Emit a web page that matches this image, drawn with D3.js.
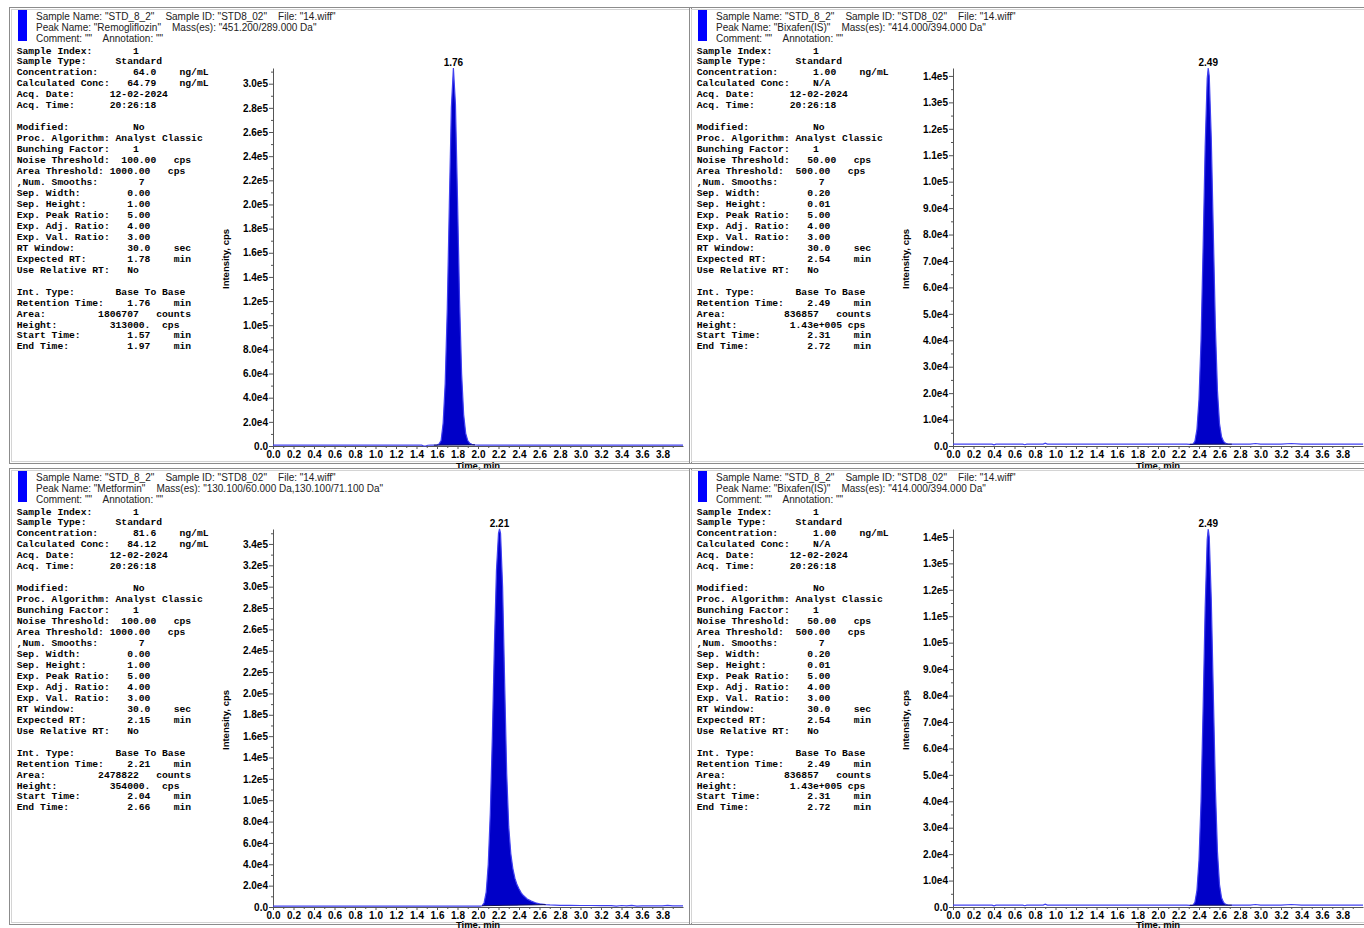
<!DOCTYPE html>
<html>
<head>
<meta charset="utf-8">
<script src="https://cdn.jsdelivr.net/npm/d3@7"></script>
<style>
  body { margin: 0; background: #fff; }
  svg { display: block; }
  .hdr { font-family: "Liberation Sans", Arial, sans-serif; font-size: 10px; fill: #222; white-space: pre; }
  .info { font-family: "Liberation Mono", "Courier New", monospace; font-size: 9.7px; font-weight: bold; fill: #000; white-space: pre; }
  .axis text { font-family: "Liberation Sans", Arial, sans-serif; font-size: 10px; font-weight: bold; fill: #000; }
  .axis path, .axis line { stroke: #555; }
  .lbl { font-family: "Liberation Sans", Arial, sans-serif; font-size: 9.5px; font-weight: bold; fill: #000; }
  .plbl { font-family: "Liberation Sans", Arial, sans-serif; font-size: 10px; font-weight: bold; fill: #000; }
</style>
</head>
<body>
<div id="chart"></div>
<script>
// ---- data ----
const xTicks = [0.0, 0.2, 0.4, 0.6, 0.8, 1.0, 1.2, 1.4, 1.6, 1.8, 2.0, 2.2, 2.4, 2.6, 2.8, 3.0, 3.2, 3.4, 3.6, 3.8];

// Remogliflozin (top left)
const remoTime = [0.00, 0.10, 0.20, 0.30, 0.40, 0.50, 0.60, 0.70, 0.80, 0.90, 1.00, 1.10, 1.20, 1.30, 1.40,
  1.45, 1.47, 1.49, 1.51, 1.54, 1.57,
  1.60, 1.62, 1.64, 1.66, 1.68, 1.70, 1.72, 1.74, 1.76, 1.78, 1.80, 1.82, 1.84, 1.86, 1.88, 1.90, 1.92, 1.94,
  1.97, 2.00, 2.05,
  2.10, 2.20, 2.30, 2.40, 2.50, 2.60, 2.70, 2.80, 2.90, 3.00, 3.10, 3.20, 3.30, 3.40, 3.50, 3.60, 3.70, 3.80, 3.90, 4.00];
const remoInt = [700, 650, 700, 680, 700, 690, 710, 700, 680, 700, 690, 700, 710, 690, 700,
  650, 0, 0, 600, 650, 700,
  900, 1600, 4500, 19000, 52000, 113000, 199000, 280000, 313000, 283000, 205000, 121000, 60000, 26000, 10500, 4500, 2200, 1400,
  900, 800, 750,
  720, 700, 690, 700, 710, 700, 690, 700, 700, 690, 700, 710, 700, 690, 700, 700, 690, 700, 700, 700];
const remoYTicks = [0, 20000, 40000, 60000, 80000, 100000, 120000, 140000, 160000, 180000, 200000, 220000, 240000, 260000, 280000, 300000];

// Bixafen(IS) (top right and bottom right)
const bixTime = [0.00, 0.10, 0.20, 0.30, 0.38, 0.40, 0.42, 0.50, 0.60, 0.68, 0.70, 0.72, 0.80, 0.88, 0.90, 0.92,
  1.00, 1.10, 1.20, 1.30, 1.40, 1.50, 1.60, 1.70, 1.80, 1.90, 2.00, 2.10, 2.20,
  2.28, 2.31, 2.34, 2.36, 2.38, 2.40, 2.42, 2.44, 2.46, 2.48, 2.49,
  2.50, 2.52, 2.54, 2.56, 2.58, 2.60, 2.62, 2.64, 2.66, 2.68, 2.70, 2.72,
  2.76, 2.80, 2.90, 2.95, 3.00, 3.10, 3.20, 3.30, 3.40, 3.50, 3.60, 3.70, 3.80, 3.90, 4.00];
const bixInt = [700, 720, 700, 710, 700, 450, 700, 720, 700, 700, 480, 700, 710, 720, 1100, 720,
  700, 710, 700, 690, 700, 710, 700, 700, 690, 700, 710, 700, 700,
  700, 650, 650, 1800, 6300, 17700, 40000, 75000, 113000, 139000, 143000,
  140000, 116000, 80000, 45000, 21000, 8500, 3500, 1700, 1000, 800, 700, 680,
  700, 700, 700, 950, 700, 700, 700, 950, 700, 700, 710, 700, 700, 720, 700];
const bixYTicks = [0, 10000, 20000, 30000, 40000, 50000, 60000, 70000, 80000, 90000, 100000, 110000, 120000, 130000, 140000];

// Metformin (bottom left)
const metTime = [0.00, 0.10, 0.20, 0.30, 0.40, 0.50, 0.60, 0.70, 0.80, 0.90, 1.00, 1.10, 1.20, 1.30, 1.40, 1.50, 1.60, 1.70, 1.80, 1.90,
  1.95, 2.00,
  2.02, 2.04, 2.06, 2.08, 2.10, 2.12, 2.14, 2.16, 2.18, 2.20, 2.21,
  2.22, 2.24, 2.26, 2.28, 2.30, 2.32, 2.34, 2.36, 2.38, 2.40, 2.42, 2.44,
  2.48, 2.52, 2.56, 2.60, 2.66, 2.70,
  2.80, 2.90, 3.00, 3.10, 3.20, 3.30, 3.35, 3.40, 3.45, 3.50, 3.55, 3.60, 3.70, 3.80, 3.85, 3.90, 4.00];
const metInt = [800, 780, 800, 790, 800, 810, 800, 790, 800, 800, 790, 800, 810, 800, 790, 800, 800, 790, 800, 800,
  800, 820,
  900, 1200, 4000, 14000, 40000, 88000, 160000, 245000, 315000, 350000, 354000,
  350000, 300000, 210000, 125000, 75000, 50000, 36000, 27000, 21000, 17000, 13500, 11000,
  7500, 5500, 4000, 3000, 2200, 1900,
  1600, 1500, 1400, 1400, 1300, 1200, 900, 1400, 1000, 1500, 900, 1100, 1000, 1000, 1500, 1000, 1000];
const metYTicks = [0, 20000, 40000, 60000, 80000, 100000, 120000, 140000, 160000, 180000, 200000, 220000, 240000, 260000, 280000, 300000, 320000, 340000];

// header lines
const remoHeader = [
  'Sample Name: "STD_8_2"    Sample ID: "STD8_02"    File: "14.wiff"',
  'Peak Name: "Remogliflozin"    Mass(es): "451.200/289.000 Da"',
  'Comment: ""    Annotation: ""'];
const bixHeader = [
  'Sample Name: "STD_8_2"    Sample ID: "STD8_02"    File: "14.wiff"',
  'Peak Name: "Bixafen(IS)"    Mass(es): "414.000/394.000 Da"',
  'Comment: ""    Annotation: ""'];
const metHeader = [
  'Sample Name: "STD_8_2"    Sample ID: "STD8_02"    File: "14.wiff"',
  'Peak Name: "Metformin"    Mass(es): "130.100/60.000 Da,130.100/71.100 Da"',
  'Comment: ""    Annotation: ""'];

// info blocks: [column, text] segments per line
const remoInfo = [
  [[0, "Sample Index:"], [20, "1"]],
  [[0, "Sample Type:"], [17, "Standard"]],
  [[0, "Concentration:"], [20, "64.0"], [28, "ng/mL"]],
  [[0, "Calculated Conc:"], [19, "64.79"], [28, "ng/mL"]],
  [[0, "Acq. Date:"], [16, "12-02-2024"]],
  [[0, "Acq. Time:"], [16, "20:26:18"]],
  [],
  [[0, "Modified:"], [20, "No"]],
  [[0, "Proc. Algorithm: Analyst Classic"]],
  [[0, "Bunching Factor:"], [20, "1"]],
  [[0, "Noise Threshold:"], [18, "100.00"], [27, "cps"]],
  [[0, "Area Threshold:"], [16, "1000.00"], [26, "cps"]],
  [[0, ",Num. Smooths:"], [21, "7"]],
  [[0, "Sep. Width:"], [19, "0.00"]],
  [[0, "Sep. Height:"], [19, "1.00"]],
  [[0, "Exp. Peak Ratio:"], [19, "5.00"]],
  [[0, "Exp. Adj. Ratio:"], [19, "4.00"]],
  [[0, "Exp. Val. Ratio:"], [19, "3.00"]],
  [[0, "RT Window:"], [19, "30.0"], [27, "sec"]],
  [[0, "Expected RT:"], [19, "1.78"], [27, "min"]],
  [[0, "Use Relative RT:"], [19, "No"]],
  [],
  [[0, "Int. Type:"], [17, "Base To Base"]],
  [[0, "Retention Time:"], [19, "1.76"], [27, "min"]],
  [[0, "Area:"], [14, "1806707"], [24, "counts"]],
  [[0, "Height:"], [16, "313000."], [25, "cps"]],
  [[0, "Start Time:"], [19, "1.57"], [27, "min"]],
  [[0, "End Time:"], [19, "1.97"], [27, "min"]]];

const bixInfo = [
  [[0, "Sample Index:"], [20, "1"]],
  [[0, "Sample Type:"], [17, "Standard"]],
  [[0, "Concentration:"], [20, "1.00"], [28, "ng/mL"]],
  [[0, "Calculated Conc:"], [20, "N/A"]],
  [[0, "Acq. Date:"], [16, "12-02-2024"]],
  [[0, "Acq. Time:"], [16, "20:26:18"]],
  [],
  [[0, "Modified:"], [20, "No"]],
  [[0, "Proc. Algorithm: Analyst Classic"]],
  [[0, "Bunching Factor:"], [20, "1"]],
  [[0, "Noise Threshold:"], [19, "50.00"], [27, "cps"]],
  [[0, "Area Threshold:"], [17, "500.00"], [26, "cps"]],
  [[0, ",Num. Smooths:"], [21, "7"]],
  [[0, "Sep. Width:"], [19, "0.20"]],
  [[0, "Sep. Height:"], [19, "0.01"]],
  [[0, "Exp. Peak Ratio:"], [19, "5.00"]],
  [[0, "Exp. Adj. Ratio:"], [19, "4.00"]],
  [[0, "Exp. Val. Ratio:"], [19, "3.00"]],
  [[0, "RT Window:"], [19, "30.0"], [27, "sec"]],
  [[0, "Expected RT:"], [19, "2.54"], [27, "min"]],
  [[0, "Use Relative RT:"], [19, "No"]],
  [],
  [[0, "Int. Type:"], [17, "Base To Base"]],
  [[0, "Retention Time:"], [19, "2.49"], [27, "min"]],
  [[0, "Area:"], [15, "836857"], [24, "counts"]],
  [[0, "Height:"], [16, "1.43e+005"], [26, "cps"]],
  [[0, "Start Time:"], [19, "2.31"], [27, "min"]],
  [[0, "End Time:"], [19, "2.72"], [27, "min"]]];

const metInfo = [
  [[0, "Sample Index:"], [20, "1"]],
  [[0, "Sample Type:"], [17, "Standard"]],
  [[0, "Concentration:"], [20, "81.6"], [28, "ng/mL"]],
  [[0, "Calculated Conc:"], [19, "84.12"], [28, "ng/mL"]],
  [[0, "Acq. Date:"], [16, "12-02-2024"]],
  [[0, "Acq. Time:"], [16, "20:26:18"]],
  [],
  [[0, "Modified:"], [20, "No"]],
  [[0, "Proc. Algorithm: Analyst Classic"]],
  [[0, "Bunching Factor:"], [20, "1"]],
  [[0, "Noise Threshold:"], [18, "100.00"], [27, "cps"]],
  [[0, "Area Threshold:"], [16, "1000.00"], [26, "cps"]],
  [[0, ",Num. Smooths:"], [21, "7"]],
  [[0, "Sep. Width:"], [19, "0.00"]],
  [[0, "Sep. Height:"], [19, "1.00"]],
  [[0, "Exp. Peak Ratio:"], [19, "5.00"]],
  [[0, "Exp. Adj. Ratio:"], [19, "4.00"]],
  [[0, "Exp. Val. Ratio:"], [19, "3.00"]],
  [[0, "RT Window:"], [19, "30.0"], [27, "sec"]],
  [[0, "Expected RT:"], [19, "2.15"], [27, "min"]],
  [[0, "Use Relative RT:"], [19, "No"]],
  [],
  [[0, "Int. Type:"], [17, "Base To Base"]],
  [[0, "Retention Time:"], [19, "2.21"], [27, "min"]],
  [[0, "Area:"], [14, "2478822"], [24, "counts"]],
  [[0, "Height:"], [16, "354000."], [25, "cps"]],
  [[0, "Start Time:"], [19, "2.04"], [27, "min"]],
  [[0, "End Time:"], [19, "2.66"], [27, "min"]]];

// four panes: offsets + which data they show
const panels = [
  {dx: 0,   dy: 0,   header: remoHeader, info: remoInfo, time: remoTime, inten: remoInt, yTicks: remoYTicks, rt: 1.76, start: 1.57, end: 1.97},
  {dx: 680, dy: 0,   header: bixHeader,  info: bixInfo,  time: bixTime,  inten: bixInt,  yTicks: bixYTicks,  rt: 2.49, start: 2.31, end: 2.72},
  {dx: 0,   dy: 461, header: metHeader,  info: metInfo,  time: metTime,  inten: metInt,  yTicks: metYTicks,  rt: 2.21, start: 2.04, end: 2.66},
  {dx: 680, dy: 461, header: bixHeader,  info: bixInfo,  time: bixTime,  inten: bixInt,  yTicks: bixYTicks,  rt: 2.49, start: 2.31, end: 2.72}
];

const svg = d3.select("#chart").append("svg")
    .attr("width", 1364)
    .attr("height", 928);

// y labels like 3.0e5 / 8.0e4
function fmtY(v) {
    if (v === 0) return "0.0";
    const e = Math.floor(Math.log10(v) + 1e-9);
    return (v / Math.pow(10, e)).toFixed(1) + "e" + e;
}

function buildLine(row) {
    let s = "";
    row.forEach(([col, txt]) => { s = s.padEnd(col, " ") + txt; });
    return s;
}

function drawPanel(p) {
    const g = svg.append("g").attr("transform", `translate(${p.dx},${p.dy})`);

    // pane frame
    g.append("rect")
        .attr("x", 9.5).attr("y", 7.5).attr("width", 682).attr("height", 456)
        .attr("fill", "none").attr("stroke", "#8c8c8c");
    g.append("rect")
        .attr("x", 11.5).attr("y", 9.5).attr("width", 678).attr("height", 452)
        .attr("fill", "none").attr("stroke", "#d4d4d4");

    // header
    g.append("rect")
        .attr("x", 18).attr("y", 10).attr("width", 9).attr("height", 31)
        .attr("fill", "#0000ff");
    g.selectAll("text.hdr")
        .data(p.header)
        .join("text")
        .attr("class", "hdr")
        .attr("xml:space", "preserve")
        .attr("x", 36)
        .attr("y", (d, i) => 19.5 + i * 11)
        .text(d => d);

    // info block
    g.selectAll("text.info")
        .data(p.info)
        .join("text")
        .attr("class", "info")
        .attr("xml:space", "preserve")
        .attr("x", 16.7)
        .attr("y", (d, i) => 53.5 + i * 10.96)
        .text(d => buildLine(d));

    // scales
    const x = d3.scaleLinear().domain([0, 4]).range([273, 683]);
    const yMax = d3.max(p.inten);
    const y = d3.scaleLinear().domain([0, yMax]).range([446, 68]);

    // axes
    g.append("g")
        .attr("class", "axis")
        .attr("transform", "translate(0,446)")
        .call(d3.axisBottom(x).tickValues(xTicks).tickFormat(d3.format(".1f")).tickSize(3).tickPadding(2).tickSizeOuter(0));
    g.append("g")
        .attr("class", "axis")
        .attr("transform", "translate(0,446)")
        .call(d3.axisBottom(x).tickValues(d3.range(0.1, 4, 0.2)).tickFormat("").tickSize(2))
        .call(a => a.select(".domain").remove());

    const step = p.yTicks[1] - p.yTicks[0];
    g.append("g")
        .attr("class", "axis")
        .attr("transform", "translate(273,0)")
        .call(d3.axisLeft(y).tickValues(p.yTicks).tickFormat(fmtY).tickSize(4).tickPadding(1).tickSizeOuter(0));
    g.append("g")
        .attr("class", "axis")
        .attr("transform", "translate(273,0)")
        .call(d3.axisLeft(y).tickValues(d3.range(step / 2, yMax, step)).tickFormat("").tickSize(2))
        .call(a => a.select(".domain").remove());

    // trace + integrated area
    const pts = d3.zip(p.time, p.inten);
    const i0 = pts.find(d => d[0] === p.start)[1];
    const i1 = pts.find(d => d[0] === p.end)[1];
    const base = t => i0 + (i1 - i0) * (t - p.start) / (p.end - p.start);
    const peakPts = pts.filter(d => d[0] >= p.start && d[0] <= p.end);

    g.append("path")
        .datum(peakPts)
        .attr("d", d3.area().x(d => x(d[0])).y0(d => y(base(d[0]))).y1(d => y(d[1])))
        .attr("fill", "#0000c8");

    g.append("path")
        .datum(pts)
        .attr("d", d3.line().x(d => x(d[0])).y(d => y(d[1])))
        .attr("fill", "none")
        .attr("stroke", "#4040f0")
        .attr("stroke-width", 1.2);

    g.append("line")
        .attr("x1", x(p.start)).attr("x2", x(p.end))
        .attr("y1", y(i0)).attr("y2", y(i1))
        .attr("stroke", "#10105a");

    // peak label
    g.append("text")
        .attr("class", "plbl")
        .attr("x", x(p.rt))
        .attr("y", y(yMax) - 2)
        .attr("text-anchor", "middle")
        .text(p.rt.toFixed(2));

    // axis titles
    g.append("text")
        .attr("class", "lbl")
        .attr("transform", "translate(228.5,259) rotate(-90)")
        .attr("text-anchor", "middle")
        .text("Intensity, cps");
    g.append("text")
        .attr("class", "lbl")
        .attr("x", 478)
        .attr("y", Math.min(469 + p.dy, 928) - p.dy)   // bottom row sits on the window edge, as in the source
        .attr("text-anchor", "middle")
        .text("Time, min");
}

panels.forEach(drawPanel);
</script>
</body>
</html>
